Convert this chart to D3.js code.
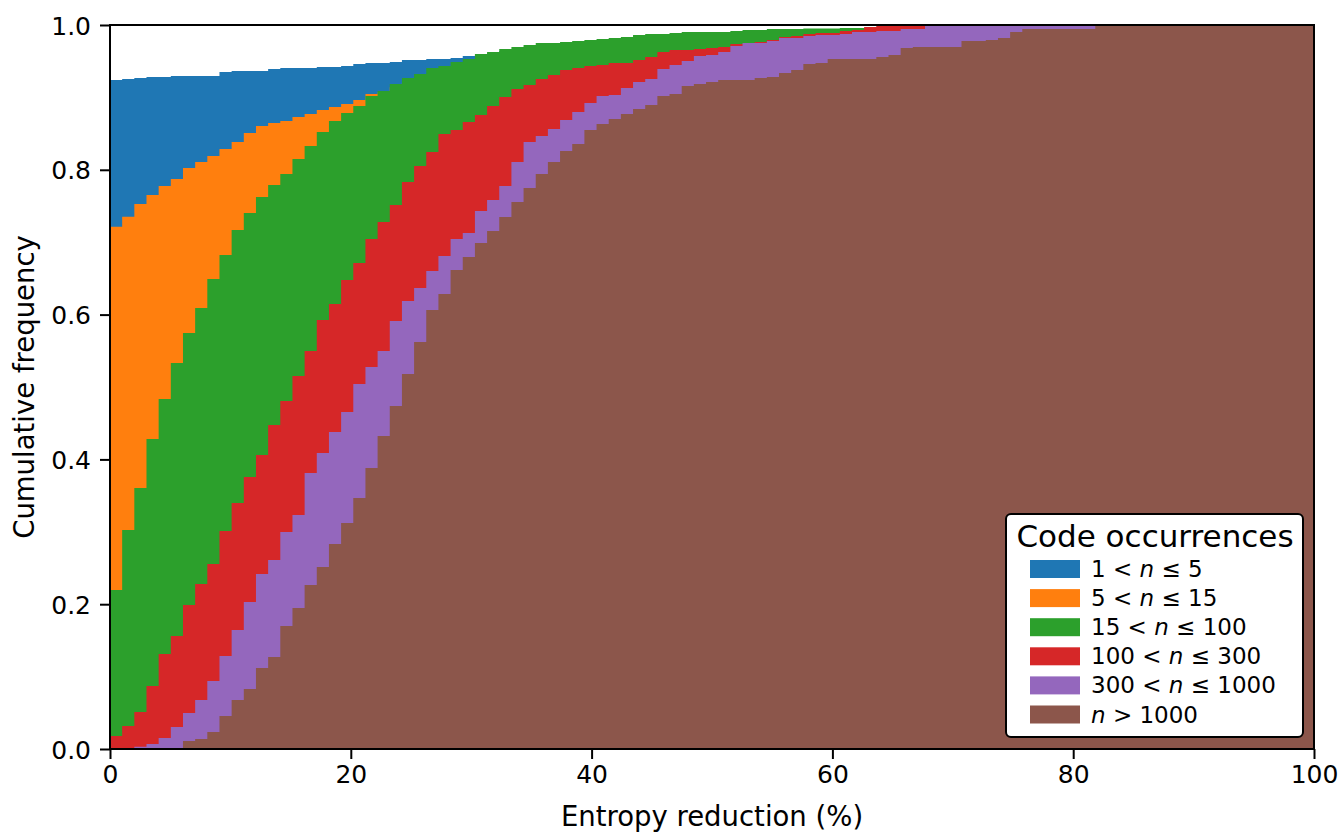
<!DOCTYPE html>
<html>
<head>
<meta charset="utf-8">
<script src="https://cdn.jsdelivr.net/npm/d3@7"></script>
<style>
  html, body { margin: 0; padding: 0; background: #fff; }
  svg { display: block; font-family: "DejaVu Sans", sans-serif; }
</style>
</head>
<body>
<svg id="chart" width="1341" height="832"></svg>
<script>
// Width of one histogram bin, in percent of entropy reduction
const binWidth = 1.0103;

// Series labels (legend) and fill colours
const seriesNames = ["1 < n ≤ 5", "5 < n ≤ 15", "15 < n ≤ 100", "100 < n ≤ 300", "300 < n ≤ 1000", "n > 1000"];
const seriesColors = ["#1f77b4", "#ff7f0e", "#2ca02c", "#d62728", "#9467bd", "#8c564b"];

// Cumulative frequency per bin (100 bins each)
const occ1to5 = [
  0.9240, 0.9254, 0.9268, 0.9282, 0.9282, 0.9296, 0.9296, 0.9296, 0.9296, 0.9351,
  0.9365, 0.9365, 0.9365, 0.9392, 0.9406, 0.9406, 0.9406, 0.9420, 0.9420, 0.9434,
  0.9461, 0.9475, 0.9475, 0.9489, 0.9517, 0.9517, 0.9530, 0.9530, 0.9544, 0.9572,
  0.958, 0.961, 0.964, 0.967, 0.970, 0.972, 0.974, 0.975, 0.977, 0.978,
  0.979, 0.980, 0.982, 0.984, 0.985, 0.986, 0.987, 0.988, 0.989, 0.989,
  0.989, 0.990, 0.991, 0.992, 0.993, 0.993, 0.994, 0.994, 0.994, 0.994,
  0.995, 0.995, 0.996, 0.996, 0.997, 0.998, 0.998, 1, 1, 1,
  1, 1, 1, 1, 1, 1, 1, 1, 1, 1,
  1, 1, 1, 1, 1, 1, 1, 1, 1, 1,
  1, 1, 1, 1, 1, 1, 1, 1, 1, 1
];
const occ5to15 = [
  0.7214, 0.7352, 0.7528, 0.7652, 0.7776, 0.7873, 0.8025, 0.8108, 0.8191, 0.8287,
  0.8384, 0.8508, 0.8605, 0.8646, 0.8674, 0.8729, 0.8771, 0.8826, 0.8867, 0.8909,
  0.8964, 0.9047, 0.907, 0.914, 0.920, 0.926, 0.931, 0.936, 0.941, 0.945,
  0.949, 0.953, 0.957, 0.960, 0.963, 0.966, 0.969, 0.971, 0.973, 0.975,
  0.977, 0.979, 0.981, 0.982, 0.984, 0.985, 0.986, 0.987, 0.988, 0.989,
  0.989, 0.990, 0.990, 0.991, 0.992, 0.993, 0.993, 0.994, 0.994, 0.994,
  0.994, 0.995, 0.995, 0.996, 0.997, 0.997, 0.998, 1, 1, 1,
  1, 1, 1, 1, 1, 1, 1, 1, 1, 1,
  1, 1, 1, 1, 1, 1, 1, 1, 1, 1,
  1, 1, 1, 1, 1, 1, 1, 1, 1, 1
];
const occ15to100 = [
  0.2196, 0.3025, 0.3605, 0.4282, 0.4834, 0.5331, 0.5746, 0.6091, 0.6492, 0.6823,
  0.7169, 0.7403, 0.7624, 0.7790, 0.7942, 0.8149, 0.8329, 0.8522, 0.8674, 0.8785,
  0.8881, 0.9019, 0.9088, 0.9185, 0.9268, 0.9323, 0.9406, 0.9434, 0.9489, 0.9530,
  0.9599, 0.9627, 0.9669, 0.9696, 0.9724, 0.9751, 0.9751, 0.9765, 0.9779, 0.9793,
  0.9807, 0.9820, 0.9834, 0.9862, 0.9876, 0.9876, 0.9890, 0.9903, 0.9903, 0.9903,
  0.9903, 0.9917, 0.9931, 0.9931, 0.9945, 0.9945, 0.9945, 0.9952, 0.9952, 0.9952,
  0.9959, 0.9959, 0.9966, 0.9975, 0.9980, 0.9990, 0.9990, 1, 1, 1,
  1, 1, 1, 1, 1, 1, 1, 1, 1, 1,
  1, 1, 1, 1, 1, 1, 1, 1, 1, 1,
  1, 1, 1, 1, 1, 1, 1, 1, 1, 1
];
const occ100to300 = [
  0.0180, 0.0318, 0.0511, 0.0870, 0.1312, 0.1561, 0.1989, 0.2279, 0.2555, 0.3011,
  0.3398, 0.3757, 0.4061, 0.4475, 0.4807, 0.5152, 0.5497, 0.5925, 0.6146, 0.6478,
  0.6713, 0.7044, 0.7279, 0.7514, 0.7831, 0.8052, 0.8246, 0.8494, 0.8550, 0.8660,
  0.8757, 0.8881, 0.9006, 0.9116, 0.9171, 0.9254, 0.9309, 0.9378, 0.9406, 0.9434,
  0.9448, 0.9475, 0.9475, 0.9517, 0.9558, 0.9627, 0.9655, 0.9655, 0.9669, 0.9682,
  0.9696, 0.9738, 0.9745, 0.9765, 0.9793, 0.9834, 0.9848, 0.9876, 0.9890, 0.9890,
  0.9917, 0.9931, 0.9972, 0.9986, 0.9986, 0.9995, 0.9995, 1, 1, 1,
  1, 1, 1, 1, 1, 1, 1, 1, 1, 1,
  1, 1, 1, 1, 1, 1, 1, 1, 1, 1,
  1, 1, 1, 1, 1, 1, 1, 1, 1, 1
];
const occ300to1000 = [
  0.0000, 0.0014, 0.0030, 0.0070, 0.0152, 0.0304, 0.0497, 0.0677, 0.0939, 0.1285,
  0.1644, 0.2030, 0.2417, 0.2610, 0.2997, 0.3232, 0.3812, 0.4088, 0.4378, 0.4655,
  0.5041, 0.5276, 0.5497, 0.5912, 0.6188, 0.6367, 0.6602, 0.6809, 0.7044, 0.7127,
  0.7431, 0.7583, 0.7776, 0.8108, 0.8384, 0.8467, 0.8564, 0.8688, 0.8798, 0.8923,
  0.9019, 0.9033, 0.9130, 0.9213, 0.9254, 0.9392, 0.9448, 0.9503, 0.9572, 0.9586,
  0.9627, 0.9710, 0.9751, 0.9751, 0.9779, 0.9820, 0.9820, 0.9848, 0.9862, 0.9862,
  0.9876, 0.9903, 0.9903, 0.9917, 0.9917, 0.9945, 0.9945, 1, 1, 1,
  1, 1, 1, 1, 1, 1, 1, 1, 1, 1,
  1, 1, 1, 1, 1, 1, 1, 1, 1, 1,
  1, 1, 1, 1, 1, 1, 1, 1, 1, 1
];
const occOver1000 = [
  0.0000, 0.0000, 0.0005, 0.0010, 0.0010, 0.0014, 0.0110, 0.0138, 0.0235, 0.0456,
  0.0677, 0.0829, 0.1119, 0.1271, 0.1699, 0.1948, 0.2265, 0.2514, 0.2831, 0.3122,
  0.3467, 0.3881, 0.4323, 0.4738, 0.5180, 0.5622, 0.6064, 0.6285, 0.6616, 0.6796,
  0.6989, 0.7155, 0.7348, 0.7555, 0.7749, 0.7942, 0.8108, 0.8260, 0.8356, 0.8550,
  0.8633, 0.8702, 0.8771, 0.8840, 0.8895, 0.9019, 0.9047, 0.9157, 0.9185, 0.9213,
  0.9240, 0.9240, 0.9240, 0.9268, 0.9282, 0.9337, 0.9378, 0.9461, 0.9475, 0.9530,
  0.9530, 0.9530, 0.9530, 0.9558, 0.9586, 0.9682, 0.9696, 0.9696, 0.9696, 0.9696,
  0.9779, 0.9779, 0.9793, 0.9820, 0.9903, 0.9945, 0.9945, 0.9945, 0.9945, 0.9945,
  0.9945, 1, 1, 1, 1, 1, 1, 1, 1, 1,
  1, 1, 1, 1, 1, 1, 1, 1, 1, 1
];
const seriesValues = [occ1to5, occ5to15, occ15to100, occ100to300, occ300to1000, occOver1000];

// Axis ticks
const xTickValues = [0, 20, 40, 60, 80, 100];
const xTickLabels = ["0", "20", "40", "60", "80", "100"];
const yTickValues = [0, 0.2, 0.4, 0.6, 0.8, 1.0];
const yTickLabels = ["0.0", "0.2", "0.4", "0.6", "0.8", "1.0"];

const legendTitle = "Code occurrences";
const xAxisTitle = "Entropy reduction (%)";
const yAxisTitle = "Cumulative frequency";

// ---- layout ----
const plot = { left: 110, right: 1314, top: 25, bottom: 749 };
const svg = d3.select("#chart");

const x = d3.scaleLinear().domain([0, 100]).range([plot.left, plot.right]);
const y = d3.scaleLinear().domain([0, 1]).range([plot.bottom, plot.top]);

svg.append("defs").append("clipPath").attr("id", "plot-clip")
  .append("rect")
  .attr("x", plot.left).attr("y", plot.top)
  .attr("width", plot.right - plot.left).attr("height", plot.bottom - plot.top);

// Cumulative step histograms, drawn back to front
const area = d3.area()
  .curve(d3.curveStepAfter)
  .x(d => x(d.x))
  .y0(y(0))
  .y1(d => y(d.v));

const fills = svg.append("g").attr("clip-path", "url(#plot-clip)");
seriesValues.forEach((vals, k) => {
  const pts = vals.map((v, i) => ({ x: i * binWidth, v }));
  pts.push({ x: vals.length * binWidth, v: vals[vals.length - 1] });
  fills.append("path")
    .datum(pts)
    .attr("d", area)
    .attr("fill", seriesColors[k])
    .attr("stroke", "none");
});

// Axes
const fontTick = 25;
const xAxis = d3.axisBottom(x)
  .tickValues(xTickValues)
  .tickFormat((d, i) => xTickLabels[i])
  .tickSize(10).tickPadding(8);
const gx = svg.append("g").attr("transform", `translate(0,${plot.bottom})`).call(xAxis);
const yAxis = d3.axisLeft(y)
  .tickValues(yTickValues)
  .tickFormat((d, i) => yTickLabels[i])
  .tickSize(10).tickPadding(9);
const gy = svg.append("g").attr("transform", `translate(${plot.left},0)`).call(yAxis);

[gx, gy].forEach(g => {
  g.select(".domain").remove();
  g.selectAll(".tick line").attr("stroke", "#000").attr("stroke-width", 2);
  g.selectAll(".tick text")
    .attr("fill", "#000")
    .style("font-family", "DejaVu Sans")
    .style("font-size", fontTick + "px");
});
gx.selectAll(".tick text").attr("y", 0).attr("dy", 0)
  .attr("transform", "translate(0,34)");
gy.selectAll(".tick text").attr("dy", "0.36em");

// Frame
svg.append("rect")
  .attr("x", plot.left).attr("y", plot.top)
  .attr("width", plot.right - plot.left).attr("height", plot.bottom - plot.top)
  .attr("fill", "none").attr("stroke", "#000").attr("stroke-width", 2);

// Axis titles
svg.append("text")
  .attr("x", (plot.left + plot.right) / 2).attr("y", 826)
  .attr("text-anchor", "middle")
  .style("font-size", "27.5px")
  .text(xAxisTitle);
svg.append("text")
  .attr("transform", `translate(34,${(plot.top + plot.bottom) / 2}) rotate(-90)`)
  .attr("text-anchor", "middle")
  .style("font-size", "27.5px")
  .text(yAxisTitle);

// Legend
const lg = svg.append("g");
lg.append("rect")
  .attr("x", 1006).attr("y", 514).attr("width", 297).attr("height", 223)
  .attr("rx", 5).attr("ry", 5)
  .attr("fill", "#fff").attr("stroke", "#000").attr("stroke-width", 2);
lg.append("text")
  .attr("x", 1155).attr("y", 547)
  .attr("text-anchor", "middle")
  .style("font-size", "31px")
  .text(legendTitle);
seriesNames.forEach((name, k) => {
  const cy = 569 + k * 29.1;
  lg.append("rect")
    .attr("x", 1030).attr("y", cy - 9).attr("width", 50).attr("height", 18)
    .attr("fill", seriesColors[k]);
  const t = lg.append("text")
    .attr("x", 1091).attr("y", cy + 8)
    .style("font-size", "23px");
  // italic "n" inside the label
  const parts = name.split("n");
  t.append("tspan").text(parts[0]);
  t.append("tspan").style("font-style", "italic").text("n");
  t.append("tspan").text(parts[1]);
});
</script>
</body>
</html>
